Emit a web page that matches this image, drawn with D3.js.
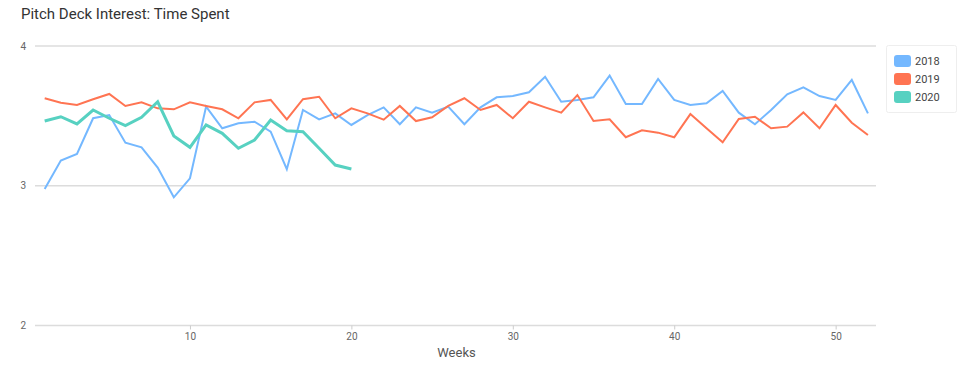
<!DOCTYPE html>
<html>
<head>
<meta charset="utf-8">
<script src="https://cdn.jsdelivr.net/npm/d3@7"></script>
<style>
  body { margin: 0; background: #fff; }
  svg { display: block; font-family: Roboto, "DejaVu Sans", sans-serif; }
</style>
</head>
<body>
<svg id="chart" width="969" height="383"></svg>
<script>
const title = "Pitch Deck Interest: Time Spent";
const xLabel = "Weeks";
const seriesNames = ["2018", "2019", "2020"];
const seriesColors = ["#74b8ff", "#ff7452", "#57d1c1"];
const yTicks = [2, 3, 4];
const xTicks = [10, 20, 30, 40, 50];

const values2018 = [2.977, 3.18, 3.227, 3.483, 3.506, 3.308, 3.275, 3.13, 2.917, 3.053,
  3.566, 3.411, 3.447, 3.458, 3.387, 3.118, 3.542, 3.475, 3.518, 3.435,
  3.506, 3.561, 3.44, 3.561, 3.523, 3.566, 3.44, 3.561, 3.633, 3.642,
  3.669, 3.78, 3.601, 3.614, 3.633, 3.788, 3.585, 3.585, 3.764, 3.614,
  3.578, 3.59, 3.678, 3.523, 3.44, 3.542, 3.654, 3.704, 3.642, 3.614,
  3.757, 3.518];
const values2019 = [3.626, 3.594, 3.578, 3.619, 3.657, 3.571, 3.597, 3.554, 3.547, 3.597,
  3.571, 3.547, 3.483, 3.597, 3.614, 3.475, 3.619, 3.637, 3.483, 3.554,
  3.518, 3.473, 3.571, 3.463, 3.49, 3.571, 3.626, 3.542, 3.578, 3.483,
  3.601, 3.561, 3.523, 3.649, 3.463, 3.475, 3.347, 3.397, 3.38, 3.347,
  3.513, 3.411, 3.311, 3.478, 3.494, 3.411, 3.423, 3.525, 3.411, 3.578,
  3.451, 3.363];
const values2020 = [3.463, 3.494, 3.442, 3.542, 3.483, 3.43, 3.49, 3.601, 3.356, 3.275,
  3.435, 3.375, 3.268, 3.327, 3.47, 3.394, 3.387, 3.268, 3.148, 3.12];

const allSeries = [values2018, values2019, values2020];
const strokeWidths = [2, 2, 3];

const svg = d3.select("#chart");
const margin = { left: 35, right: 93, top: 46, bottom: 57.5 };
const W = 969, H = 383;

const x = d3.scaleLinear().domain([0.4, 52.5]).range([margin.left, W - margin.right]);
const y = d3.scaleLinear().domain([2, 4]).range([H - margin.bottom, margin.top]);

// title
svg.append("text")
  .attr("x", 21).attr("y", 19)
  .attr("font-size", 15).attr("fill", "#333")
  .text(title);

// grid
svg.append("g").selectAll("line").data(yTicks).join("line")
  .attr("x1", x.range()[0]).attr("x2", x.range()[1])
  .attr("y1", d => y(d)).attr("y2", d => y(d))
  .attr("stroke", "#dcdcdc").attr("stroke-width", 1.5);

// y labels
svg.append("g").selectAll("text").data(yTicks).join("text")
  .attr("x", 26).attr("y", d => y(d)).attr("dy", "0.35em")
  .attr("text-anchor", "end").attr("font-size", 10).attr("fill", "#666")
  .text(d => d);

// x axis
const xAxis = d3.axisBottom(x).tickValues(xTicks).tickSize(4).tickPadding(3).tickFormat(d3.format("d"));
const gx = svg.append("g").attr("transform", `translate(0,${y(2)})`).call(xAxis);
gx.select(".domain").remove();
gx.selectAll(".tick line").attr("stroke", "#ccc");
gx.selectAll(".tick text").attr("fill", "#666").attr("font-size", 10)
  .attr("font-family", "Roboto, 'DejaVu Sans', sans-serif");

svg.append("text")
  .attr("x", (x.range()[0] + x.range()[1]) / 2 + 1).attr("y", 357)
  .attr("text-anchor", "middle").attr("font-size", 13).attr("fill", "#555")
  .text(xLabel);

// lines
const line = d3.line().x((d, i) => x(i + 1)).y(d => y(d));
svg.append("g").selectAll("path").data(allSeries).join("path")
  .attr("d", d => line(d))
  .attr("fill", "none")
  .attr("stroke", (d, i) => seriesColors[i])
  .attr("stroke-width", (d, i) => strokeWidths[i])
  .attr("stroke-linejoin", "miter");

// legend
const lg = svg.append("g");
lg.append("rect").attr("x", 886.5).attr("y", 45.5).attr("width", 70).attr("height", 67)
  .attr("fill", "#fff").attr("stroke", "#eee").attr("rx", 2);
const items = lg.selectAll("g.item").data(seriesNames).join("g").attr("class", "item")
  .attr("transform", (d, i) => `translate(894,${61 + i * 18})`);
items.append("rect").attr("x", 0).attr("y", -6).attr("width", 17).attr("height", 12)
  .attr("rx", 3).attr("fill", (d, i) => seriesColors[i]);
items.append("text").attr("x", 21).attr("y", 0).attr("dy", "0.35em")
  .attr("font-size", 11).attr("fill", "#444").text(d => d);
</script>
</body>
</html>
